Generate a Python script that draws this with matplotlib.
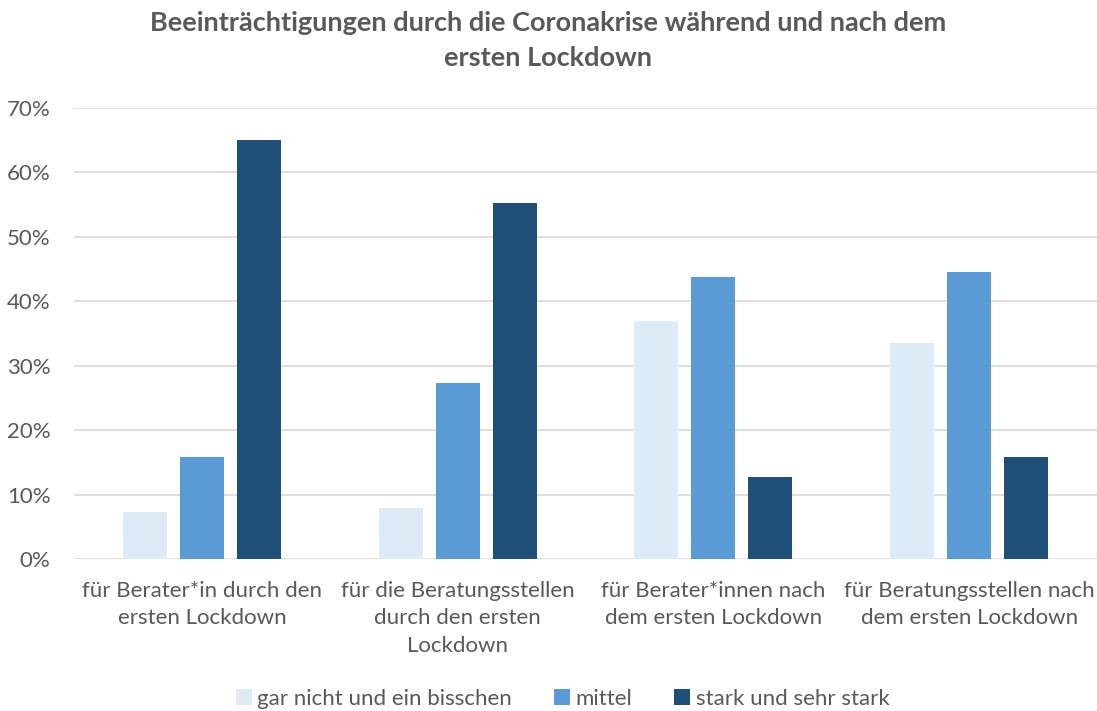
import matplotlib
matplotlib.use("Agg")
import matplotlib.pyplot as plt
import numpy as np
from matplotlib.ticker import PercentFormatter

categories = ["für Berater*in durch den\nersten Lockdown",
              "für die Beratungsstellen\ndurch den ersten\nLockdown",
              "für Berater*innen nach\ndem ersten Lockdown",
              "für Beratungsstellen nach\ndem ersten Lockdown"]
series_names = ["gar nicht und ein bisschen", "mittel", "stark und sehr stark"]
gar_nicht = [0.073, 0.079, 0.370, 0.335]
mittel = [0.158, 0.273, 0.438, 0.445]
stark = [0.651, 0.553, 0.127, 0.158]
colors = ["#DDEBF7", "#5B9BD5", "#1F4E79"]

plt.rcParams['font.family'] = ['Lato', 'DejaVu Sans']
text_color = "#595959"

fig = plt.figure(figsize=(10.97, 7.11), dpi=100)
ax = fig.add_axes([0.0675, 0.2138, 0.9325, 0.6343])

x = np.arange(len(categories))
w = 0.172
step = 0.2227
for i, (vals, name) in enumerate(zip([gar_nicht, mittel, stark], series_names)):
    ax.bar(x + (i - 1) * step, vals, width=w, color=colors[i], label=name, zorder=3)

ax.set_xlim(-0.5, len(categories) - 0.5)
ax.set_ylim(0, 0.7)
ax.set_yticks(np.arange(0, 0.71, 0.1))
ax.yaxis.set_major_formatter(PercentFormatter(1.0, decimals=0))
ax.grid(axis='y', color="#D9D9D9", linewidth=1.2, zorder=0)
for s in ax.spines.values():
    s.set_visible(False)
ax.tick_params(axis='both', length=0, colors=text_color, labelsize=16)
ax.tick_params(axis='y', pad=17)
ax.tick_params(axis='x', pad=16)
ax.set_xticks(x)
ax.set_xticklabels(categories, linespacing=1.45)

fig.text(0.5, 0.943, "Beeinträchtigungen durch die Coronakrise während und nach dem\nersten Lockdown",
         ha='center', va='center', fontsize=19.5, fontweight='bold', color=text_color, linespacing=1.55)

leg = fig.legend(loc='center', bbox_to_anchor=(0.513, 0.017), ncol=3, frameon=False,
                 fontsize=16, handlelength=0.7, handleheight=0.7, handletextpad=0.25,
                 columnspacing=1.9, labelcolor=text_color)

fig.savefig("out.png", dpi=100)
